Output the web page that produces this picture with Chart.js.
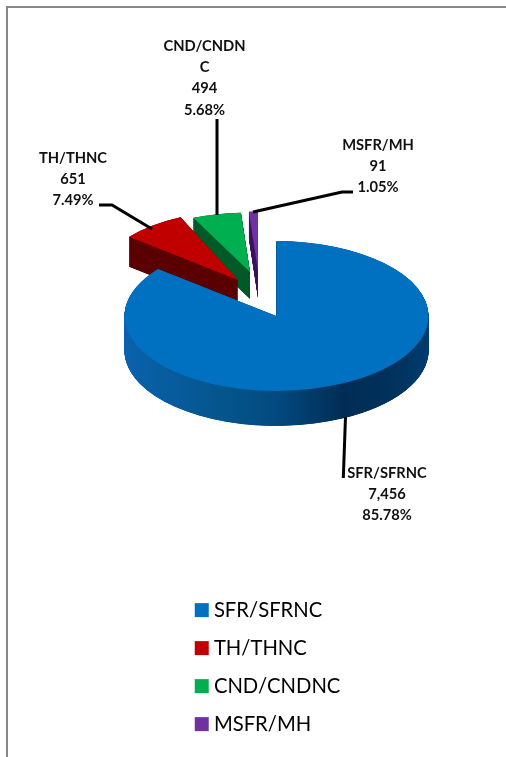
<!DOCTYPE html>
<html><head><meta charset="utf-8">
<style>
html,body{margin:0;padding:0;background:#fff;width:506px;height:757px;overflow:hidden}
#frame{position:absolute;left:6px;top:6px;width:500px;height:751px;border-left:2px solid #888;border-top:2px solid #888;box-sizing:border-box}
canvas{position:absolute;left:0;top:0}
</style>
<script src="https://cdn.jsdelivr.net/npm/chart.js@4/dist/chart.umd.min.js"></script>
</head><body>
<div id="frame"></div>
<canvas id="c" width="506" height="757"></canvas>
<script>
const categories = ['SFR/SFRNC','TH/THNC','CND/CNDNC','MSFR/MH'];
const values = [7456,651,494,91];
const valueLabels = ['7,456','651','494','91'];
const percentLabels = ['85.78%','7.49%','5.68%','1.05%'];
const topColors = ['#0070c0','#c00000','#00b050','#7030a0'];
const sideColors = ['#004a85','#5c0000','#005a28','#3f1a60'];

// Layout of the pseudo-3D projection and of the callouts
const PIE = {x:276.5,y:316,r:152};
const sliceShift = [[0,0],[-38.5,-36],[-26.5,-44],[-18.5,-45]];
const sliceRadius = [1,0.92,0.91,0.91];
const sliceSquash = [0.493,0.493,0.43,0.43];
const sliceDepth = [35,30,27,27];
const drawOrder = [3,2,1,0];
const callouts = [
  {index:0,lines:['SFR/SFRNC'],x:387,y:473,path:[[345.5,417],[343.3,478]]},
  {index:1,lines:['TH/THNC'],x:73,y:158,path:[[99,205],[112,205],[152,229]]},
  {index:2,lines:['CND/CNDN','C'],x:204.5,y:46,path:[[217,119],[217,215]]},
  {index:3,lines:['MSFR/MH'],x:378,y:145,path:[[353,192],[342,192],[253,212]]}
];

const pie3d = {
  id:'pie3d',
  beforeDatasetsDraw(chart){
    const ctx = chart.ctx, arcs = chart.getDatasetMeta(0).data;
    drawOrder.forEach(i=>{
      const arc = arcs[i], base = arc.options, r0 = arc.outerRadius;
      const k = sliceSquash[i], user = sliceDepth[i]/k;
      ctx.save();
      ctx.translate(PIE.x+sliceShift[i][0],PIE.y+sliceShift[i][1]);
      ctx.scale(1,k);
      ctx.translate(-arc.x,-arc.y);
      arc.outerRadius = PIE.r*sliceRadius[i];
      let side = sideColors[i];
      if(i===0){
        const g = ctx.createLinearGradient(arc.x-PIE.r,0,arc.x+PIE.r,0);
        g.addColorStop(0,'#0a62ac');
        g.addColorStop(0.3,'#05568f');
        g.addColorStop(0.5,'#024a80');
        g.addColorStop(0.72,'#002d55');
        g.addColorStop(0.9,'#00335e');
        g.addColorStop(1,'#003c70');
        side = g;
      }
      arc.options = Object.create(base,{backgroundColor:{value:side}});
      for(let d=user;d>0;d-=0.5){
        ctx.save(); ctx.translate(0,d); arc.draw(ctx); ctx.restore();
      }
      arc.options = base;
      arc.draw(ctx);
      arc.outerRadius = r0;
      ctx.restore();
    });
    return false;
  },
  afterDraw(chart){
    const ctx = chart.ctx;
    ctx.save();
    ctx.strokeStyle='#000'; ctx.lineWidth=3; ctx.lineJoin='miter';
    callouts.forEach(c=>{
      ctx.beginPath();
      c.path.forEach((p,i)=> i?ctx.lineTo(p[0],p[1]):ctx.moveTo(p[0],p[1]));
      ctx.stroke();
      ctx.fillStyle='#111';
      ctx.font='bold 14.7px Lato';
      ctx.textAlign='center'; ctx.textBaseline='middle';
      const lines = c.lines.concat(valueLabels[c.index],percentLabels[c.index]);
      lines.forEach((t,i)=>ctx.fillText(t,c.x,c.y+i*21.3));
    });
    ctx.restore();
  }
};

new Chart(document.getElementById('c'),{
  type:'pie',
  data:{labels:categories,datasets:[{data:values,backgroundColor:topColors,borderWidth:0,radius:PIE.r}]},
  plugins:[pie3d],
  options:{
    responsive:false,animation:false,
    layout:{padding:{left:182,right:150,top:0,bottom:5}},
    plugins:{
      tooltip:{enabled:false},
      legend:{
        position:'chartArea',align:'end',
        labels:{
          boxWidth:4,boxHeight:4,padding:17.75,color:'#1a1a1a',
          font:{family:'Lato',size:20.25},
          generateLabels(chart){
            return categories.map((t,i)=>({text:t,fillStyle:topColors[i],strokeStyle:topColors[i],lineWidth:10,hidden:false,index:i,lineJoin:'miter',lineCap:'butt'}));
          }
        }
      }
    }
  }
});
</script>
</body></html>
